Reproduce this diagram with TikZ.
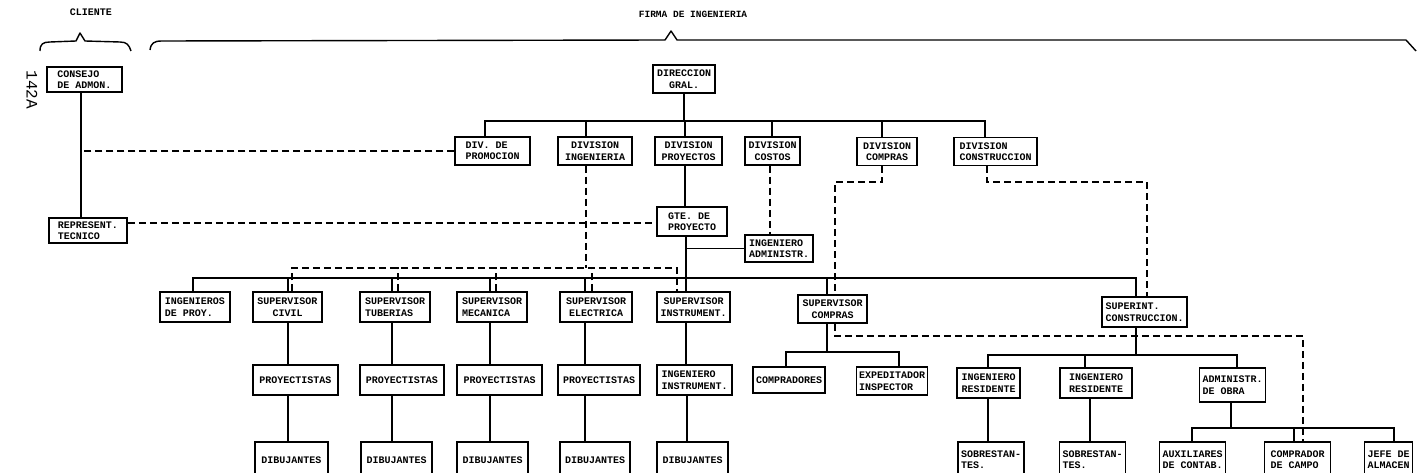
\documentclass[tikz,border=0pt]{standalone}
\usepackage{fontspec}
\setmonofont{Liberation Mono}
\begin{document}
\begin{tikzpicture}[x=1pt,y=-1pt,
  bx/.style={draw, fill=white, line width=1.5pt, inner xsep=2.5pt, inner ysep=1pt, align=left,
    font=\ttfamily\bfseries\fontsize{10}{11.5}\selectfont, minimum height=28pt},
  bxb/.style={bx, anchor=north, minimum height=36pt},
  ln/.style={line width=1.3pt},
  dsh/.style={line width=1.3pt, dash pattern=on 7pt off 4pt},
  brace/.style={line width=1.4pt, line join=round}
]
\path[use as bounding box, fill=white] (0,0) rectangle (1418,473);
\clip (0,0) rectangle (1418,473);

% titles
\node[font=\ttfamily\bfseries\fontsize{10}{10}\selectfont] (cli) at (91,12) {CLIENTE};
\node[font=\ttfamily\bfseries\fontsize{9.5}{9.5}\selectfont] (firma) at (693,14) {FIRMA DE INGENIERIA};
\node[rotate=-90, font=\ttfamily\fontsize{16}{16}\selectfont] (num) at (32,90) {142A};
\draw[brace] (40,51) .. controls (40,44) and (43,42) .. (50,42) -- (76,41) -- (80,33) -- (85,41) -- (120,42) .. controls (127,42) and (129,45) .. (131,51);
\draw[brace] (150,50) .. controls (151,43) and (154,41) .. (162,41) -- (665,40) -- (671,31) -- (677,40) -- (1406,40) -- (1416,51);

% client
\node[bx, minimum width=75, minimum height=25] (consejo) at (84.5,79.5) {CONSEJO\\DE ADMON.};
\node[bx, minimum width=78, minimum height=25] (repres) at (88,230.5) {REPRESENT.\\TECNICO};

% top levels
\node[bx, align=center, minimum width=62] (dir) at (684,79) {DIRECCION\\GRAL.};
\node[bx, minimum width=75] (promo) at (492.5,151) {DIV. DE\\PROMOCION};
\node[bx, align=center, minimum width=74] (ing) at (595,151) {DIVISION\\INGENIERIA};
\node[bx, align=center, minimum width=67] (proy) at (688.5,151) {DIVISION\\PROYECTOS};
\node[bx, align=center, minimum width=55] (costos) at (772.5,151) {DIVISION\\COSTOS};
\node[bx, align=center, minimum width=60] (compras) at (887,151.5) {DIVISION\\COMPRAS};
\node[bx, minimum width=83] (constr) at (995.5,151.5) {DIVISION\\CONSTRUCCION};
\node[bx, minimum width=70, minimum height=29] (gte) at (692,221.5) {GTE. DE\\PROYECTO};
\node[bx, minimum width=68, minimum height=27] (admin) at (779,248.5) {INGENIERO\\ADMINISTR.};

% row 3
\node[bx, minimum width=70, minimum height=30] (ingproy) at (195,307) {INGENIEROS\\DE PROY.};
\node[bx, align=center, minimum width=69, minimum height=30] (civil) at (287.5,307) {SUPERVISOR\\CIVIL};
\node[bx, minimum width=70, minimum height=30] (tub) at (395,307) {SUPERVISOR\\TUBERIAS};
\node[bx, minimum width=70, minimum height=30] (mec) at (492,307) {SUPERVISOR\\MECANICA};
\node[bx, align=center, minimum width=72, minimum height=30] (elec) at (596,307) {SUPERVISOR\\ELECTRICA};
\node[bx, align=center, minimum width=73, minimum height=30] (instr) at (693.5,307) {SUPERVISOR\\INSTRUMENT.};
\node[bx, align=center, minimum width=69] (supcomp) at (832.5,309) {SUPERVISOR\\COMPRAS};
\node[bx, minimum width=85, minimum height=30] (superint) at (1144.5,312) {SUPERINT.\\CONSTRUCCION.};

% row 4
\node[bx, minimum width=85, minimum height=30] (pro1) at (295.5,380) {PROYECTISTAS};
\node[bx, minimum width=84, minimum height=30] (pro2) at (402,380) {PROYECTISTAS};
\node[bx, minimum width=85, minimum height=30] (pro3) at (499.5,380) {PROYECTISTAS};
\node[bx, minimum width=82, minimum height=30] (pro4) at (599,380) {PROYECTISTAS};
\node[bx, minimum width=75, minimum height=30] (inginstr) at (694.5,380) {INGENIERO\\INSTRUMENT.};
\node[bx, minimum width=72, minimum height=26] (compradores) at (789,380) {COMPRADORES};
\node[bx, minimum width=70] (exped) at (892,381) {EXPEDITADOR\\INSPECTOR};
\node[bx, minimum width=63, minimum height=30] (ingres1) at (988.5,383) {INGENIERO\\RESIDENTE};
\node[bx, minimum width=72, minimum height=30] (ingres2) at (1096,383) {INGENIERO\\RESIDENTE};
\node[bx, minimum width=66, minimum height=34] (admobra) at (1232.5,385) {ADMINISTR.\\DE OBRA};

% row 5
\node[bxb, minimum width=73] (dib1) at (291.5,441) {DIBUJANTES};
\node[bxb, minimum width=71] (dib2) at (396.5,441) {DIBUJANTES};
\node[bxb, minimum width=71] (dib3) at (492.5,441) {DIBUJANTES};
\node[bxb, minimum width=70] (dib4) at (595,441) {DIBUJANTES};
\node[bxb, minimum width=71] (dib5) at (692.5,441) {DIBUJANTES};
\node[bxb, minimum width=66] (sobre1) at (991,441) {SOBRESTAN-\\TES.};
\node[bxb, minimum width=66] (sobre2) at (1092.5,441) {SOBRESTAN-\\TES.};
\node[bxb, minimum width=66] (aux) at (1192.5,441) {AUXILIARES\\DE CONTAB.};
\node[bxb, minimum width=66] (compcampo) at (1297.5,441) {COMPRADOR\\DE CAMPO};
\node[bxb, minimum width=48] (jefe) at (1388.5,441) {JEFE DE\\ALMACEN};

% bus coordinates
\coordinate (b1L) at (485,121);
\coordinate (b1R) at (985,121);
\coordinate (b2L) at (193,278);
\coordinate (b2R) at (1136,278);
\coordinate (b3L) at (786,352);
\coordinate (b3R) at (899,352);
\coordinate (b4L) at (988,355);
\coordinate (b4R) at (1237,355);
\coordinate (b5L) at (1192,428);
\coordinate (b5R) at (1394,428);

% solid connectors
\draw[ln] (consejo.south -| 81,0) -- (repres.north -| 81,0);
\draw[ln] (promo.north -| b1L) -- (b1L) -- (b1R) -- (constr.north -| b1R);
\draw[ln] (dir.south) |- (b1L);
\draw[ln] (ing.north -| 586,0) |- (b1L);
\draw[ln] (proy.north -| 685,0) |- (b1L);
\draw[ln] (costos.north -| 772,0) |- (b1L);
\draw[ln] (compras.north -| 882,0) |- (b1L);
\draw[ln] (proy.south -| 685,0) -- (gte.north -| 685,0);
\draw[ln] (gte.south -| 686,0) -- (instr.north -| 686,0);
\draw[ln] (admin.west) -| (gte.south -| 686,0);

\draw[ln] (ingproy.north -| b2L) -- (b2L) -- (b2R) -- (superint.north -| b2R);
\draw[ln] (civil.north -| 288,0) |- (b2L);
\draw[ln] (tub.north -| 392,0) |- (b2L);
\draw[ln] (mec.north -| 490,0) |- (b2L);
\draw[ln] (elec.north -| 585,0) |- (b2L);
\draw[ln] (supcomp.north -| 827,0) |- (b2L);

\draw[ln] (civil.south -| 288,0) -- (pro1.north -| 288,0);
\draw[ln] (pro1.south -| 288,0) -- (dib1.north -| 288,0);
\draw[ln] (tub.south -| 392,0) -- (pro2.north -| 392,0);
\draw[ln] (pro2.south -| 392,0) -- (dib2.north -| 392,0);
\draw[ln] (mec.south -| 490,0) -- (pro3.north -| 490,0);
\draw[ln] (pro3.south -| 490,0) -- (dib3.north -| 490,0);
\draw[ln] (elec.south -| 585,0) -- (pro4.north -| 585,0);
\draw[ln] (pro4.south -| 585,0) -- (dib4.north -| 585,0);
\draw[ln] (instr.south -| 686,0) -- (inginstr.north -| 686,0);
\draw[ln] (inginstr.south -| 687,0) -- (dib5.north -| 687,0);

\draw[ln] (compradores.north -| b3L) -- (b3L) -- (b3R) -- (exped.north -| b3R);
\draw[ln] (supcomp.south -| 827,0) |- (b3L);

\draw[ln] (ingres1.north -| b4L) -- (b4L) -- (b4R) -- (admobra.north -| b4R);
\draw[ln] (superint.south -| 1136,0) |- (b4L);
\draw[ln] (ingres2.north -| 1085,0) |- (b4L);
\draw[ln] (ingres1.south -| 988,0) -- (sobre1.north -| 988,0);
\draw[ln] (ingres2.south -| 1090,0) -- (sobre2.north -| 1090,0);

\draw[ln] (aux.north -| b5L) -- (b5L) -- (b5R) -- (jefe.north -| b5R);
\draw[ln] (admobra.south -| 1231,0) |- (b5L);
\draw[ln] (compcampo.north -| 1294,0) |- (b5L);

% dashed connectors
\draw[dsh] (promo.west) -- (promo.west -| 81,0);
\draw[dsh] (repres.east |- 0,223) -- (gte.west |- 0,223);
\draw[dsh] (costos.south -| 770,0) -- (admin.north -| 770,0);

\coordinate (dI) at (586,268);
\coordinate (dL) at (292,268);
\coordinate (dR) at (677,268);
\draw[dsh] (ing.south -| dI) -- (dI);
\draw[dsh] (civil.north -| dL) -- (dL) -- (dR) -- (instr.north -| dR);
\draw[dsh] (tub.north -| 398,0) -- ++(0,-24);
\draw[dsh] (mec.north -| 496,0) -- ++(0,-24);
\draw[dsh] (elec.north -| 592,0) -- ++(0,-24);

\coordinate (dC1) at (882,182);
\coordinate (dC2) at (835,182);
\draw[dsh] (compras.south -| dC1) -- (dC1) -- (dC2) -- (supcomp.north -| dC2);
\coordinate (dC3) at (835,336);
\coordinate (dC4) at (1303,336);
\draw[dsh] (supcomp.south -| dC3) -- (dC3) -- (dC4) -- (compcampo.north -| dC4);
\coordinate (dK1) at (987,182);
\coordinate (dK2) at (1147,182);
\draw[dsh] (constr.south -| dK1) -- (dK1) -- (dK2) -- (superint.north -| dK2);
\end{tikzpicture}
\end{document}
